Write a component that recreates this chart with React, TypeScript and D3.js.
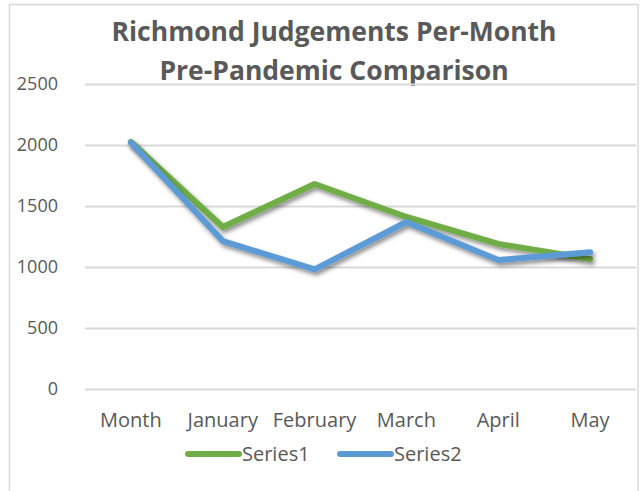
import { useEffect, useRef } from "react";
import * as d3 from "d3";

const months = ["Month", "January", "February", "March", "April", "May"];
const series1 = [2025, 1328, 1680, 1410, 1189, 1066];
const series2 = [2020, 1213, 980, 1369, 1057, 1120];
const yTicks = [0, 500, 1000, 1500, 2000, 2500];
const seriesNames = ["Series1", "Series2"];
const seriesColors = ["#70AD47", "#5B9BD5"];

export default function App() {
    const svgRef = useRef<SVGSVGElement>(null);

    useEffect(() => {
        const width = 640;
        const height = 491;
        const margin = { top: 84, right: 4, bottom: 102, left: 85 };
        const innerW = width - margin.left - margin.right;
        const innerH = height - margin.top - margin.bottom;
        const font = "'Open Sans', sans-serif";
        const textColor = "#595959";

        const svg = d3.select(svgRef.current);
        svg.selectAll("*").remove();

        // drop shadow like excel
        const defs = svg.append("defs");
        defs.append("filter")
            .attr("id", "shadow")
            .attr("x", "-10%")
            .attr("y", "-10%")
            .attr("width", "130%")
            .attr("height", "130%")
            .append("feDropShadow")
            .attr("dx", 2)
            .attr("dy", 3)
            .attr("stdDeviation", 2)
            .attr("flood-color", "#000")
            .attr("flood-opacity", 0.45);

        svg.append("rect")
            .attr("x", 9.5)
            .attr("y", 4.5)
            .attr("width", 628.5)
            .attr("height", 500)
            .attr("fill", "white")
            .attr("stroke", "#D9D9D9")
            .attr("stroke-width", 1.5);

        const title = svg.append("text")
            .attr("text-anchor", "middle")
            .attr("fill", textColor)
            .style("font-family", font)
            .style("font-weight", "bold")
            .style("font-size", "26.5px");
        title.append("tspan").attr("x", 334).attr("y", 41).text("Richmond Judgements Per-Month");
        title.append("tspan").attr("x", 334).attr("y", 80).text("Pre-Pandemic Comparison");

        const g = svg.append("g").attr("transform", `translate(${margin.left},${margin.top})`);

        const x = d3.scaleBand().domain(months).range([0, innerW]);
        const y = d3.scaleLinear().domain([0, 2500]).range([innerH, 0]);

        // gridlines
        g.append("g")
            .selectAll("line")
            .data(yTicks)
            .enter()
            .append("line")
            .attr("x1", 0)
            .attr("x2", innerW)
            .attr("y1", (d) => Math.round(y(d)) + 0.5)
            .attr("y2", (d) => Math.round(y(d)) + 0.5)
            .attr("stroke", "#D9D9D9")
            .attr("stroke-width", 2);

        g.append("g")
            .selectAll("text")
            .data(yTicks)
            .enter()
            .append("text")
            .attr("x", -27)
            .attr("y", (d) => y(d))
            .attr("dy", "0.35em")
            .attr("text-anchor", "end")
            .attr("fill", textColor)
            .style("font-family", font)
            .style("font-size", "18px")
            .text((d) => d);

        g.append("g")
            .selectAll("text")
            .data(months)
            .enter()
            .append("text")
            .attr("x", (d) => (x(d) || 0) + x.bandwidth() / 2)
            .attr("y", innerH + 38)
            .attr("text-anchor", "middle")
            .attr("fill", textColor)
            .style("font-family", font)
            .style("font-size", "20px")
            .text((d) => d);

        const line = d3.line<number>()
            .x((d, i) => (x(months[i]) || 0) + x.bandwidth() / 2)
            .y((d) => y(d));

        [series1, series2].forEach((s, i) => {
            g.append("path")
                .datum(s)
                .attr("d", line)
                .attr("fill", "none")
                .attr("stroke", seriesColors[i])
                .attr("stroke-width", 6)
                .attr("stroke-linecap", "round")
                .attr("stroke-linejoin", "round")
                .attr("filter", "url(#shadow)");
        });

        // legend
        const legendY = 454;
        const legendX = [188, 340];
        seriesNames.forEach((name, i) => {
            svg.append("line")
                .attr("x1", legendX[i])
                .attr("x2", legendX[i] + 51)
                .attr("y1", legendY)
                .attr("y2", legendY)
                .attr("stroke", seriesColors[i])
                .attr("stroke-width", 6)
                .attr("stroke-linecap", "round");
            svg.append("text")
                .attr("x", legendX[i] + 54)
                .attr("y", legendY + 7)
                .attr("fill", textColor)
                .style("font-family", font)
                .style("font-size", "20px")
                .text(name);
        });
    }, []);

    return (
        <svg
            ref={svgRef}
            width={640}
            height={491}
            style={{ position: "absolute", left: 0, top: 0, background: "white" }}
        />
    );
}
